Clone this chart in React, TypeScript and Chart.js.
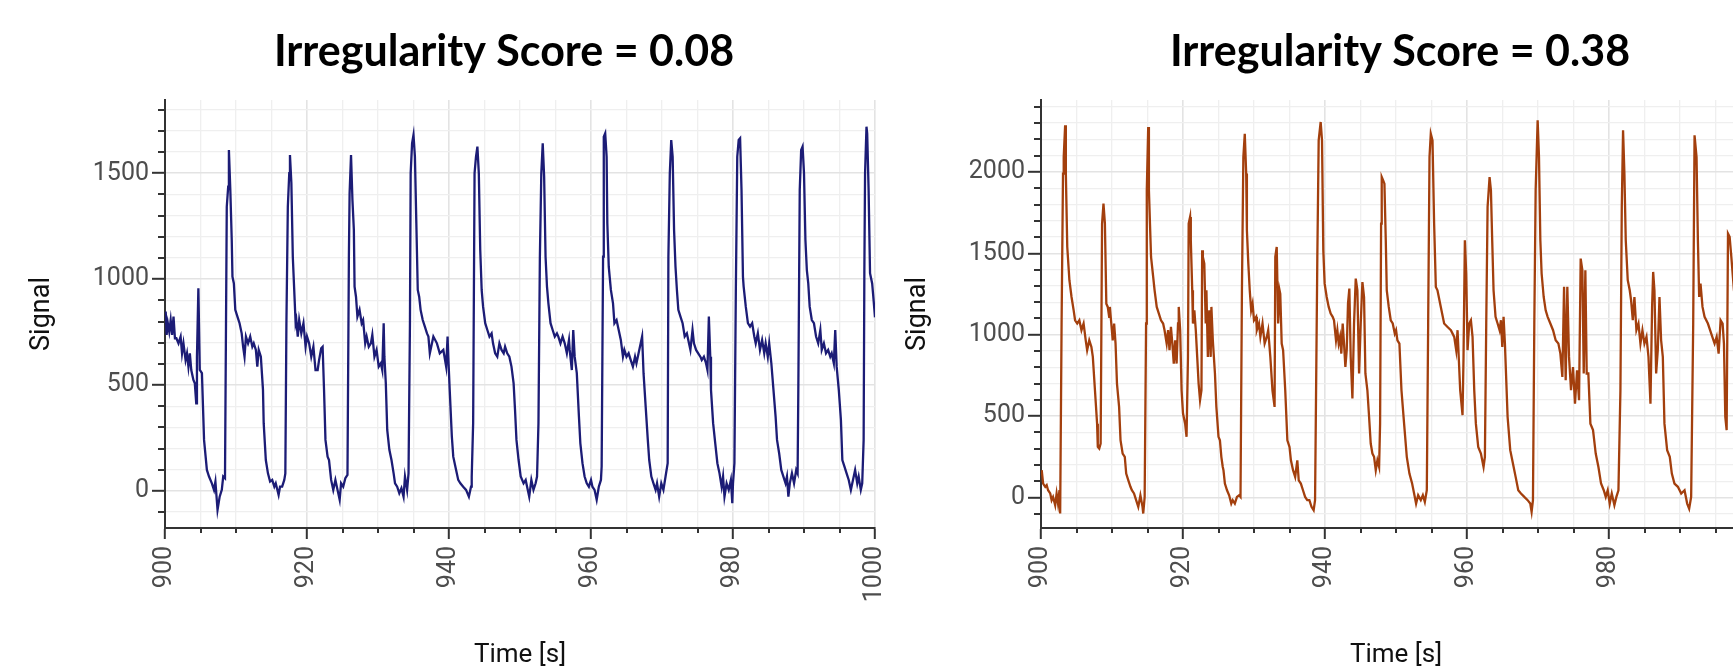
import React, { useEffect, useRef } from 'react';
import { Chart, registerables } from 'chart.js';

Chart.register(...registerables);

// ---------------- data ----------------
const leftTitle = 'Irregularity Score = 0.08';
const rightTitle = 'Irregularity Score = 0.38';

const leftTimes = [
  900.1, 900.23, 900.4, 900.6, 900.8, 901.0, 901.2, 901.4, 901.6, 901.9, 902.2, 902.4, 902.6, 902.9, 903.1, 903.3, 903.5, 903.7, 904.0, 904.2,
  904.4, 904.5, 904.7, 904.9, 905.2, 905.5, 905.9, 906.2, 906.6, 906.9, 907.1, 907.4, 907.7, 908.0, 908.2, 908.45, 908.7, 908.9, 909.0, 909.2,
  909.4, 909.5, 909.7, 909.9, 910.2, 910.5, 910.8, 911.0, 911.2, 911.4, 911.7, 912.0, 912.3, 912.5, 912.8, 913.0, 913.2, 913.5, 913.8, 913.9,
  914.2, 914.5, 914.8, 915.1, 915.4, 915.6, 916.0, 916.2, 916.5, 916.8, 916.95, 917.1, 917.3, 917.5, 917.6, 917.8, 918.0, 918.2, 918.4, 918.5,
  918.7, 918.9, 919.2, 919.5, 919.8, 920.0, 920.3, 920.6, 920.9, 921.2, 921.5, 921.7, 922.0, 922.2, 922.4, 922.6, 922.9, 923.1, 923.4, 923.7,
  924.0, 924.3, 924.6, 924.8, 925.1, 925.4, 925.7, 925.9, 926.0, 926.2, 926.4, 926.6, 926.7, 926.9, 927.1, 927.4, 927.7, 927.9, 928.2, 928.4,
  928.7, 929.0, 929.2, 929.5, 929.8, 930.1, 930.4, 930.6, 930.8, 930.9, 931.1, 931.3, 931.6, 931.9, 932.2, 932.4, 932.7, 933.0, 933.3, 933.6,
  933.8, 934.1, 934.3, 934.5, 934.6, 934.8, 935.0, 935.2, 935.4, 935.6, 935.8, 936.0, 936.3, 936.6, 936.9, 937.1, 937.3, 937.8, 938.3, 938.7,
  939.2, 939.6, 939.8, 939.9, 940.1, 940.4, 940.6, 941.0, 941.3, 941.6, 942.0, 942.4, 942.8, 943.1, 943.2, 943.4, 943.6, 943.8, 944.0, 944.2,
  944.4, 944.6, 944.8, 945.1, 945.4, 945.7, 946.0, 946.2, 946.5, 946.8, 947.1, 947.4, 947.7, 947.9, 948.2, 948.5, 948.8, 949.1, 949.3, 949.5,
  949.8, 950.1, 950.5, 950.8, 951.0, 951.3, 951.6, 951.9, 952.2, 952.4, 952.6, 952.8, 953.0, 953.2, 953.4, 953.6, 953.8, 954.0, 954.3, 954.6,
  954.9, 955.2, 955.4, 955.7, 956.0, 956.3, 956.6, 956.9, 957.0, 957.3, 957.5, 957.7, 958.0, 958.3, 958.5, 958.8, 959.1, 959.4, 959.7, 960.0,
  960.2, 960.5, 960.8, 961.1, 961.4, 961.5, 961.7, 961.8, 962.0, 962.2, 962.3, 962.5, 962.8, 963.1, 963.3, 963.6, 963.9, 964.2, 964.5, 964.7,
  965.0, 965.3, 965.6, 965.9, 966.2, 966.4, 966.7, 967.0, 967.2, 967.4, 967.7, 968.0, 968.2, 968.5, 968.8, 969.1, 969.3, 969.6, 969.9, 970.2,
  970.5, 970.8, 970.9, 971.1, 971.3, 971.5, 971.7, 971.9, 972.1, 972.3, 972.6, 972.9, 973.2, 973.5, 973.8, 974.0, 974.3, 974.5, 974.8, 975.1,
  975.4, 975.6, 975.9, 976.2, 976.4, 976.6, 976.8, 976.9, 977.2, 977.5, 977.8, 978.1, 978.4, 978.6, 978.8, 979.1, 979.4, 979.7, 979.9, 980.0,
  980.2, 980.4, 980.6, 980.8, 981.0, 981.2, 981.4, 981.5, 981.8, 982.1, 982.4, 982.7, 983.0, 983.2, 983.5, 983.8, 984.1, 984.4, 984.6, 984.9,
  985.1, 985.4, 985.7, 986.0, 986.2, 986.5, 986.8, 987.1, 987.4, 987.6, 987.8, 988.0, 988.3, 988.6, 988.9, 989.1, 989.2, 989.4, 989.6, 989.8,
  990.0, 990.2, 990.4, 990.6, 990.8, 991.1, 991.4, 991.7, 992.0, 992.3, 992.5, 992.8, 993.1, 993.4, 993.7, 993.9, 994.2, 994.4, 994.6, 994.9,
  995.2, 995.4, 995.7, 996.0, 996.3, 996.6, 996.9, 997.2, 997.5, 997.7, 998.0, 998.2, 998.4, 998.5, 998.6, 998.8, 998.9, 999.1, 999.3, 999.6,
  999.8, 1000.0,
];

const leftSignal = [
  847, 737, 792, 752, 807, 737, 823, 721, 721, 697, 729, 650, 697, 618, 650, 587, 650, 571, 524, 508,
  414, 634, 957, 571, 556, 241, 99, 68, 36, 5, 44, -90, -27, 5, 68, 60, 1342, 1437, 1610, 1421,
  1185, 1012, 980, 855, 823, 792, 744, 681, 634, 729, 697, 729, 681, 697, 666, 587, 666, 634, 477, 320,
  146, 83, 44, 52, 20, 36, -19, 20, 20, 52, 83, 792, 1342, 1500, 1586, 1453, 1106, 949, 792, 807,
  729, 807, 744, 792, 681, 729, 697, 634, 681, 571, 571, 618, 674, 681, 477, 241, 162, 146, 52, 5,
  52, 5, -42, 36, 20, 60, 76, 1106, 1405, 1586, 1374, 1232, 965, 917, 823, 855, 792, 807, 697, 729,
  681, 697, 737, 634, 666, 587, 603, 571, 792, 634, 508, 288, 194, 146, 83, 36, 20, -11, 13, -27,
  68, 5, 83, 792, 1500, 1641, 1681, 1578, 1264, 949, 917, 855, 807, 776, 744, 729, 650, 729, 697, 650,
  666, 587, 729, 634, 477, 257, 162, 99, 52, 36, 20, 5, -27, 20, 68, 320, 1500, 1578, 1626, 1500,
  1138, 949, 870, 792, 760, 729, 744, 697, 650, 634, 697, 666, 650, 681, 650, 634, 587, 508, 382, 241,
  146, 68, 36, 52, 20, -27, 52, 5, 36, 68, 320, 1106, 1500, 1641, 1484, 1106, 965, 886, 792, 760,
  729, 744, 729, 697, 729, 697, 650, 713, 666, 571, 760, 634, 556, 351, 225, 131, 68, 36, 20, 52,
  20, 5, -42, 20, 52, 115, 1106, 1673, 1689, 1578, 1264, 1059, 949, 886, 792, 807, 760, 713, 634, 666,
  634, 650, 618, 587, 634, 603, 650, 697, 729, 556, 398, 241, 146, 68, 36, 5, 36, -27, 36, 5,
  68, 131, 1106, 1500, 1657, 1578, 1232, 1059, 949, 855, 823, 792, 729, 744, 697, 666, 760, 697, 666, 650,
  634, 618, 634, 603, 571, 823, 634, 477, 320, 225, 131, 83, 20, 68, -27, 36, 5, 52, -58, 36,
  131, 949, 1578, 1657, 1665, 1421, 1012, 965, 870, 792, 776, 792, 729, 697, 744, 666, 713, 650, 697, 634,
  697, 603, 477, 351, 241, 178, 99, 68, 36, 68, -27, 36, 83, 36, 99, 83, 477, 1421, 1610, 1626,
  1500, 1185, 1043, 980, 870, 807, 792, 729, 697, 760, 666, 697, 650, 666, 634, 650, 603, 760, 587, 477,
  335, 146, 115, 83, 52, 5, 52, 99, 36, 68, 5, 36, 241, 1028, 1500, 1720, 1689, 1421, 1028, 980,
  902, 820,
];

const rightTimes = [
  900.1, 900.3, 900.6, 900.8, 901.0, 901.3, 901.5, 901.7, 902.0, 902.2, 902.4, 902.6, 902.7, 902.9, 903.1, 903.2, 903.4, 903.5, 903.7, 904.0,
  904.3, 904.6, 904.8, 905.1, 905.4, 905.7, 906.0, 906.3, 906.5, 906.8, 907.1, 907.3, 907.6, 907.9, 908.0, 908.2, 908.4, 908.6, 908.8, 909.0,
  909.2, 909.4, 909.6, 909.7, 909.9, 910.1, 910.3, 910.5, 910.7, 911.0, 911.2, 911.5, 911.8, 912.0, 912.3, 912.6, 912.8, 913.1, 913.4, 913.7,
  914.0, 914.3, 914.4, 914.6, 914.8, 914.9, 915.1, 915.2, 915.5, 915.8, 916.0, 916.3, 916.6, 916.9, 917.2, 917.4, 917.7, 917.9, 918.1, 918.3,
  918.5, 918.7, 918.9, 919.1, 919.3, 919.4, 919.6, 919.8, 920.0, 920.3, 920.5, 920.7, 920.8, 921.0, 921.1, 921.3, 921.4, 921.6, 921.8, 922.0,
  922.2, 922.4, 922.6, 922.7, 922.8, 923.0, 923.2, 923.3, 923.5, 923.7, 923.9, 924.0, 924.2, 924.5, 924.7, 925.0, 925.2, 925.4, 925.6, 925.7,
  925.9, 926.2, 926.5, 926.8, 927.0, 927.3, 927.6, 927.9, 928.1, 928.3, 928.5, 928.7, 928.9, 929.0, 929.2, 929.4, 929.6, 929.8, 930.0, 930.3,
  930.4, 930.7, 930.9, 931.2, 931.5, 931.8, 932.0, 932.3, 932.6, 932.9, 933.0, 933.2, 933.4, 933.6, 933.7, 933.9, 934.1, 934.4, 934.7, 935.0,
  935.2, 935.5, 935.8, 936.1, 936.3, 936.6, 936.9, 937.2, 937.5, 937.8, 938.1, 938.4, 938.6, 938.92, 939.11, 939.39, 939.58, 939.76, 939.95, 940.24,
  940.52, 940.8, 941.08, 941.27, 941.55, 941.74, 941.93, 942.12, 942.3, 942.49, 942.68, 942.87, 943.06, 943.24, 943.43, 943.62, 943.86, 944.09, 944.33, 944.56,
  944.8, 945.03, 945.27, 945.5, 945.69, 945.97, 946.21, 946.44, 946.68, 946.91, 947.15, 947.38, 947.62, 947.76, 947.9, 947.99, 948.18, 948.37, 948.56, 948.7,
  948.98, 949.26, 949.54, 949.83, 950.01, 950.2, 950.48, 950.77, 951.14, 951.52, 951.89, 952.27, 952.55, 952.83, 953.12, 953.49, 953.78, 954.06, 954.34, 954.53,
  954.72, 954.9, 955.14, 955.37, 955.61, 955.84, 956.31, 956.78, 957.26, 957.73, 958.2, 958.48, 958.67, 959.04, 959.37, 959.51, 959.7, 959.89, 960.08, 960.31,
  960.55, 960.78, 961.02, 961.25, 961.58, 961.96, 962.33, 962.52, 962.71, 962.9, 963.18, 963.37, 963.55, 963.74, 964.02, 964.31, 964.59, 964.78, 964.97, 965.15,
  965.34, 965.72, 966.09, 966.47, 966.85, 967.22, 967.6, 968.07, 968.54, 968.91, 969.1, 969.29, 969.48, 969.67, 969.95, 970.14, 970.33, 970.51, 970.8, 971.08,
  971.36, 971.74, 972.12, 972.49, 972.87, 973.15, 973.43, 973.67, 973.9, 974.13, 974.37, 974.65, 974.93, 975.21, 975.5, 975.78, 976.01, 976.25, 976.44, 976.67,
  976.86, 977.09, 977.38, 977.75, 978.13, 978.51, 978.88, 979.26, 979.54, 979.82, 980.1, 980.39, 980.76, 981.04, 981.33, 981.61, 981.8, 981.98, 982.17, 982.36,
  982.64, 982.92, 983.11, 983.35, 983.58, 983.86, 984.15, 984.43, 984.71, 984.99, 985.28, 985.56, 985.84, 986.07, 986.22, 986.4, 986.64, 986.87, 987.11, 987.34,
  987.58, 987.81, 988.19, 988.56, 988.85, 989.22, 989.7, 990.17, 990.64, 991.01, 991.29, 991.57, 991.86, 992.05, 992.33, 992.52, 992.7, 992.89, 993.17, 993.46,
  993.93, 994.4, 994.87, 995.16, 995.44, 995.72, 996.0, 996.19, 996.38, 996.57, 996.76, 996.99, 997.23, 997.6, 997.9,
];

const rightSignal = [
  168, 86, 66, 76, 45, 25, -16, 4, -47, 25, -37, 45, -98, 1069, 1990, 2092, 2287, 1990, 1539, 1335,
  1232, 1150, 1089, 1069, 1089, 1028, 1069, 966, 905, 966, 925, 864, 659, 454, 311, 301, 332, 1683, 1805, 1683,
  1191, 1171, 1110, 1171, 1069, 966, 1069, 946, 700, 557, 352, 270, 250, 147, 106, 66, 45, 25, -16, -57,
  14, -57, -98, 4, 1069, 1887, 2276, 1887, 1478, 1355, 1273, 1171, 1130, 1089, 1069, 1028, 946, 1028, 905, 1048,
  946, 823, 966, 823, 1069, 1171, 1028, 659, 516, 454, 373, 864, 1683, 1724, 1580, 1273, 1069, 1150, 1028, 864,
  700, 598, 659, 1519, 1478, 1437, 1069, 1273, 864, 1150, 864, 1171, 966, 762, 557, 373, 352, 250, 188, 168,
  86, 45, 14, -37, -16, -37, 4, 14, 4, 1273, 2092, 2235, 1990, 1642, 1437, 1273, 1150, 1191, 1089, 1110,
  1028, 1069, 987, 1069, 946, 987, 1028, 864, 659, 557, 1478, 1539, 1069, 1273, 1251, 946, 905, 659, 352, 311,
  229, 168, 127, 229, 106, 86, 45, 4, -16, -16, -57, -78, -16, 1478, 2194, 2307, 2194, 1519, 1314, 1232,
  1171, 1130, 1110, 1089, 966, 1028, 946, 987, 884, 1069, 946, 802, 905, 1191, 1284, 864, 608, 1069, 1345, 1273,
  762, 1069, 1324, 1232, 762, 659, 495, 332, 270, 250, 168, 229, 188, 454, 1683, 1969, 1949, 1928, 1580, 1273,
  1171, 1089, 1069, 1007, 1028, 966, 946, 659, 454, 250, 147, 86, 25, -37, 14, -16, 14, -27, 45, 1069,
  2092, 2235, 2194, 1683, 1294, 1273, 1171, 1069, 1048, 1028, 987, 905, 1028, 659, 506, 864, 1580, 1376, 905, 1069,
  1089, 987, 659, 454, 311, 270, 188, 250, 1069, 1785, 1969, 1887, 1580, 1273, 1110, 1069, 1028, 1089, 925, 1110,
  946, 495, 291, 209, 127, 45, 25, 4, -16, -37, -88, -16, 1069, 1887, 2317, 2092, 1580, 1376, 1232, 1150,
  1110, 1069, 1028, 966, 946, 884, 741, 1294, 721, 1294, 864, 659, 802, 577, 782, 598, 1468, 1396, 762, 1396,
  762, 762, 454, 414, 270, 188, 86, 45, 4, 45, -37, 25, -47, 4, 45, 659, 1785, 2256, 1990, 1580,
  1335, 1273, 1212, 1089, 1232, 1028, 1069, 946, 1028, 946, 987, 864, 577, 1171, 1386, 1273, 762, 905, 1232, 966,
  864, 454, 291, 250, 147, 86, 66, 25, 45, -37, -68, 4, 1069, 2225, 2092, 1580, 1232, 1314, 1171, 1110,
  1069, 1007, 946, 987, 884, 1089, 1069, 946, 495, 414, 1621, 1601, 1478, 1273, 1200,
];

const xTickValues = [900, 905, 910, 915, 920, 925, 930, 935, 940, 945, 950, 955, 960, 965, 970, 975, 980, 985, 990, 995, 1000];
const leftYTickValues = [-100, 0, 100, 200, 300, 400, 500, 600, 700, 800, 900, 1000, 1100, 1200, 1300, 1400, 1500, 1600, 1700, 1800];
const rightYTickValues = [-100, 0, 100, 200, 300, 400, 500, 600, 700, 800, 900, 1000, 1100, 1200, 1300, 1400, 1500, 1600, 1700, 1800, 1900, 2000, 2100, 2200, 2300, 2400];
const xLabelStep = 20;
const yLabelStep = 500;

// ---------------- chart ----------------
const CANVAS_H = 668;
const PLOT_LEFT = 165; // chart-area left inside each canvas
const PLOT_RIGHT = 875; // chart-area right inside each canvas
const PLOT_BOTTOM = 528;

const minorTicks = {
  id: 'minorTicks',
  afterDraw(chart: any) {
    const ctx = chart.ctx;
    const xs = chart.scales.x;
    const ys = chart.scales.y;
    ctx.save();
    ctx.strokeStyle = '#333333';
    ctx.lineWidth = 2;
    xs.ticks.forEach((t: any) => {
      if (t.value % xLabelStep !== 0) {
        const px = Math.round(xs.getPixelForValue(t.value));
        ctx.beginPath();
        ctx.moveTo(px, xs.top);
        ctx.lineTo(px, xs.top + 5);
        ctx.stroke();
      }
    });
    ys.ticks.forEach((t: any) => {
      if (t.value % yLabelStep !== 0) {
        const py = Math.round(ys.getPixelForValue(t.value));
        ctx.beginPath();
        ctx.moveTo(ys.right - 7, py);
        ctx.lineTo(ys.right, py);
        ctx.stroke();
      }
    });
    ctx.restore();
  },
};

type PanelProps = {
  left: number;
  titleCenter: number;
  title: string;
  times: number[];
  values: number[];
  color: string;
  yMin: number;
  yMax: number;
  yTicks: number[];
};

function Panel({ left, titleCenter, title, times, values, color, yMin, yMax, yTicks }: PanelProps) {
  const ref = useRef<HTMLCanvasElement | null>(null);
  const inner = titleCenter * 2; // full-width title box spans [0, inner]
  const spacer = inner - PLOT_RIGHT; // empty right-hand box that keeps the plot edge at PLOT_RIGHT
  const canvasW = inner;

  useEffect(() => {
    if (!ref.current) return;
    const chart = new Chart(ref.current, {
      type: 'line',
      data: {
        datasets: [
          {
            data: times.map((t, i) => ({ x: t, y: values[i] })),
            borderColor: color,
            borderWidth: 2.3,
            pointRadius: 0,
            tension: 0,
            fill: false,
            yAxisID: 'y',
          },
        ],
      },
      options: {
        animation: false,
        responsive: false,
        maintainAspectRatio: false,
        events: [],
        layout: { padding: { left: 0, right: 0, top: 0, bottom: 0 } },
        plugins: {
          legend: { display: false },
          tooltip: { enabled: false },
          title: {
            display: true,
            text: title,
            fullSize: true,
            color: '#000000',
            font: { family: 'Lato', size: 43, weight: 'bold', lineHeight: 1.2 },
            padding: { top: 26, bottom: 22.4 },
          },
        },
        scales: {
          x: {
            type: 'linear',
            min: 900,
            max: 1000,
            afterBuildTicks: (s: any) => {
              s.ticks = xTickValues.map((v) => ({ value: v }));
            },
            afterFit: (s: any) => {
              s.height = CANVAS_H - PLOT_BOTTOM;
            },
            ticks: {
              autoSkip: false,
              minRotation: 90,
              maxRotation: 90,
              padding: 7,
              color: '#4d4d4d',
              font: { family: 'Roboto', size: 25 },
              callback: (v: any) => (Number(v) % xLabelStep === 0 ? String(v) : ''),
            },
            grid: {
              color: (c: any) => (c.tick && c.tick.value % xLabelStep === 0 ? '#e3e3e3' : '#efefef'),
              lineWidth: (c: any) => (c.tick && c.tick.value % xLabelStep === 0 ? 1.6 : 1.3),
              tickLength: 11,
              tickWidth: 2,
              tickColor: (c: any) => (c.tick && c.tick.value % xLabelStep === 0 ? '#333333' : 'rgba(0,0,0,0)'),
            },
            border: { display: true, color: '#333333', width: 2 },
            title: {
              display: true,
              text: 'Time [s]',
              color: '#111111',
              font: { family: 'Roboto', size: 26, lineHeight: 1 },
              padding: { top: 0, bottom: 0 },
            },
          },
          y: {
            type: 'linear',
            position: 'left',
            min: yMin,
            max: yMax,
            afterBuildTicks: (s: any) => {
              s.ticks = yTicks.map((v) => ({ value: v }));
            },
            afterFit: (s: any) => {
              s.width = PLOT_LEFT;
            },
            ticks: {
              autoSkip: false,
              padding: 3,
              color: '#4d4d4d',
              font: { family: 'Roboto', size: 25 },
              callback: (v: any) => (Number(v) % yLabelStep === 0 ? String(v) : ''),
            },
            grid: {
              color: (c: any) => (c.tick && c.tick.value % yLabelStep === 0 ? '#e3e3e3' : '#efefef'),
              lineWidth: (c: any) => (c.tick && c.tick.value % yLabelStep === 0 ? 1.6 : 1.3),
              tickLength: 13,
              tickWidth: 2,
              tickColor: (c: any) => (c.tick && c.tick.value % yLabelStep === 0 ? '#333333' : 'rgba(0,0,0,0)'),
            },
            border: { display: true, color: '#333333', width: 2 },
            title: {
              display: true,
              text: 'Signal',
              color: '#111111',
              font: { family: 'Roboto', size: 27, lineHeight: 1.2 },
              padding: { top: 25.8, bottom: 0 },
            },
          },
          spacer: {
            type: 'linear',
            axis: 'y',
            position: 'right',
            display: true,
            grid: { display: false, drawTicks: false },
            border: { display: false },
            ticks: { display: false },
            title: { display: false },
            afterFit: (s: any) => {
              s.width = spacer;
            },
          },
        },
      } as any,
      plugins: [minorTicks],
    });
    return () => chart.destroy();
  }, [times, values, color, title, yMin, yMax, yTicks, spacer]);

  return (
    <canvas
      ref={ref}
      width={canvasW}
      height={CANVAS_H}
      style={{ position: 'absolute', left, top: 0, width: canvasW, height: CANVAS_H }}
    />
  );
}

export default function App() {
  return (
    <div
      style={{
        position: 'absolute',
        left: 0,
        top: 0,
        width: 1733,
        height: 668,
        overflow: 'hidden',
        background: '#ffffff',
      }}
    >
      <Panel
        left={0}
        titleCenter={504}
        title={leftTitle}
        times={leftTimes}
        values={leftSignal}
        color="#1c1c76"
        yMin={-175}
        yMax={1846}
        yTicks={leftYTickValues}
      />
      <Panel
        left={876}
        titleCenter={524}
        title={rightTitle}
        times={rightTimes}
        values={rightSignal}
        color="#a33f0d"
        yMin={-187}
        yMax={2442}
        yTicks={rightYTickValues}
      />
    </div>
  );
}
